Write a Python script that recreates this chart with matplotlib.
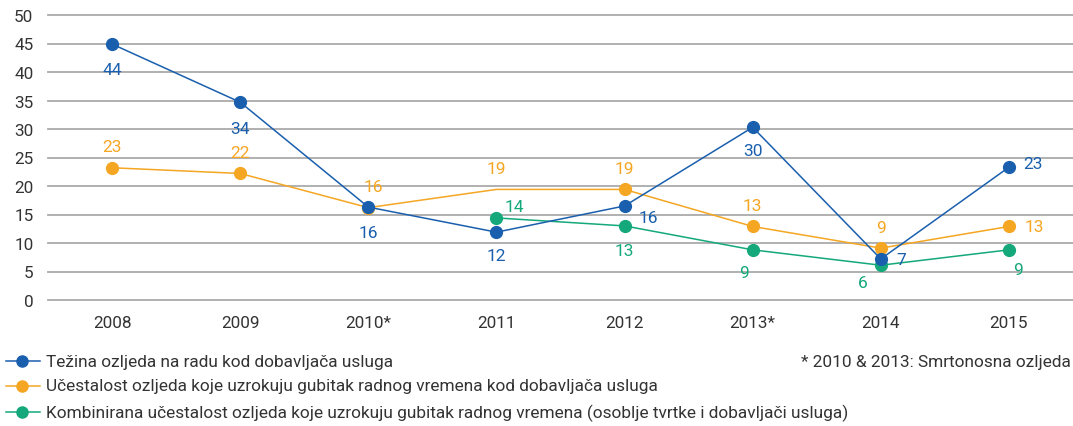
import matplotlib
matplotlib.use("Agg")
import matplotlib.pyplot as plt
from matplotlib.lines import Line2D

years = ["2008", "2009", "2010*", "2011", "2012", "2013*", "2014", "2015"]
blue_vals = [44.9, 34.7, 16.3, 11.9, 16.5, 30.3, 7.2, 23.3]
blue_labels = ["44", "34", "16", "12", "16", "30", "7", "23"]
orange_vals = [23.2, 22.2, 16.2, 19.4, 19.4, 12.9, 9.1, 12.9]
orange_labels = ["23", "22", "16", "19", "19", "13", "9", "13"]
green_vals = [None, None, None, 14.4, 13.0, 8.8, 6.1, 8.8]
green_labels = ["", "", "", "14", "13", "9", "6", "9"]

legend_labels = [
    "Težina ozljeda na radu kod dobavljača usluga",
    "Učestalost ozljeda koje uzrokuju gubitak radnog vremena kod dobavljača usluga",
    "Kombinirana učestalost ozljeda koje uzrokuju gubitak radnog vremena (osoblje tvrtke i dobavljači usluga)",
]
footnote = "* 2010 & 2013: Smrtonosna ozljeda"

BLUE = "#1a5fae"
ORANGE = "#f5a623"
GREEN = "#14a87a"
TXT = "#333333"

plt.rcParams['font.family'] = ['Roboto', 'DejaVu Sans']

W, H = 1073, 427
fig = plt.figure(figsize=(W / 100, H / 100), dpi=100)
ax = fig.add_axes([48 / W, (H - 301) / H, (W - 48) / W, (301 - 16) / H])

x = list(range(len(years)))
ax.set_xlim(-0.5, len(years) - 0.5)
ax.set_ylim(0, 50)
ax.set_yticks(range(0, 51, 5))
for yv in range(0, 51, 5):
    ax.axhline(yv, color="#aaaaaa", lw=1.3, zorder=0, clip_on=False)
for s in ax.spines.values():
    s.set_visible(False)
ax.set_xticks(x)
ax.set_xticklabels(years)
ax.tick_params(length=0, labelsize=12.3, colors=TXT, pad=0)
ax.tick_params(axis='y', pad=10.5)
ax.tick_params(axis='x', pad=11)

ms = 8.5
lw = 1.1
ax.plot(x, blue_vals, color=BLUE, lw=lw, marker="o", ms=ms, zorder=4, clip_on=False)
omark = [0, 1, 2, 4, 5, 6, 7]
ax.plot(x, orange_vals, color=ORANGE, lw=lw, marker="o", ms=ms, markevery=omark, zorder=3, clip_on=False)
gx = [i for i, v in enumerate(green_vals) if v is not None]
gy = [v for v in green_vals if v is not None]
ax.plot(gx, gy, color=GREEN, lw=lw, marker="o", ms=ms, zorder=3, clip_on=False)

fs = 12.5
# offsets in points (dx, dy) and alignments for each label
blue_off = [(0, -18.5, "center", "center"), (0, -19, "center", "center"), (0, -18, "center", "center"),
            (0, -16.5, "center", "center"), (10, -8, "left", "center"), (0, -16.5, "center", "center"),
            (11, -0.5, "left", "center"), (10, 3, "left", "center")]
orange_off = [(0, 15, "center", "center"), (0, 15, "center", "center"), (3.5, 15, "center", "center"),
              (0, 15, "center", "center"), (0, 15, "center", "center"), (0, 15, "center", "center"),
              (0, 15, "center", "center"), (11, 0, "left", "center")]
green_off = [None, None, None, (6, 8.5, "left", "center"), (0, -18, "center", "center"),
             (-6, -16, "center", "center"), (-13, -12.5, "center", "center"), (6.5, -14, "center", "center")]

def annotate(vals, labels, offs, color):
    for i, (v, lab, off) in enumerate(zip(vals, labels, offs)):
        if v is None or off is None:
            continue
        dx, dy, ha, va = off
        ax.annotate(lab, (i, v), xytext=(dx, dy), textcoords="offset points",
                    ha=ha, va=va, color=color, fontsize=fs, zorder=6)

annotate(blue_vals, blue_labels, blue_off, BLUE)
annotate(orange_vals, orange_labels, orange_off, ORANGE)
annotate(green_vals, green_labels, green_off, GREEN)

# legend drawn manually
rows = [362, 387, 413]
for (yy, col, lab) in zip(rows, [BLUE, ORANGE, GREEN], legend_labels):
    yf = 1 - yy / H
    fig.add_artist(Line2D([6 / W, 40 / W], [yf, yf], color=col, lw=lw, transform=fig.transFigure))
    fig.add_artist(Line2D([22 / W], [yf], color=col, marker="o", ms=ms - 0.5, transform=fig.transFigure))
    fig.text(46 / W, yf, lab, ha="left", va="center", fontsize=12.4, color=TXT)

fig.text(1071 / W, 1 - 362 / H, footnote, ha="right", va="center", fontsize=12.4, color=TXT)

fig.savefig("out.png", dpi=100)
